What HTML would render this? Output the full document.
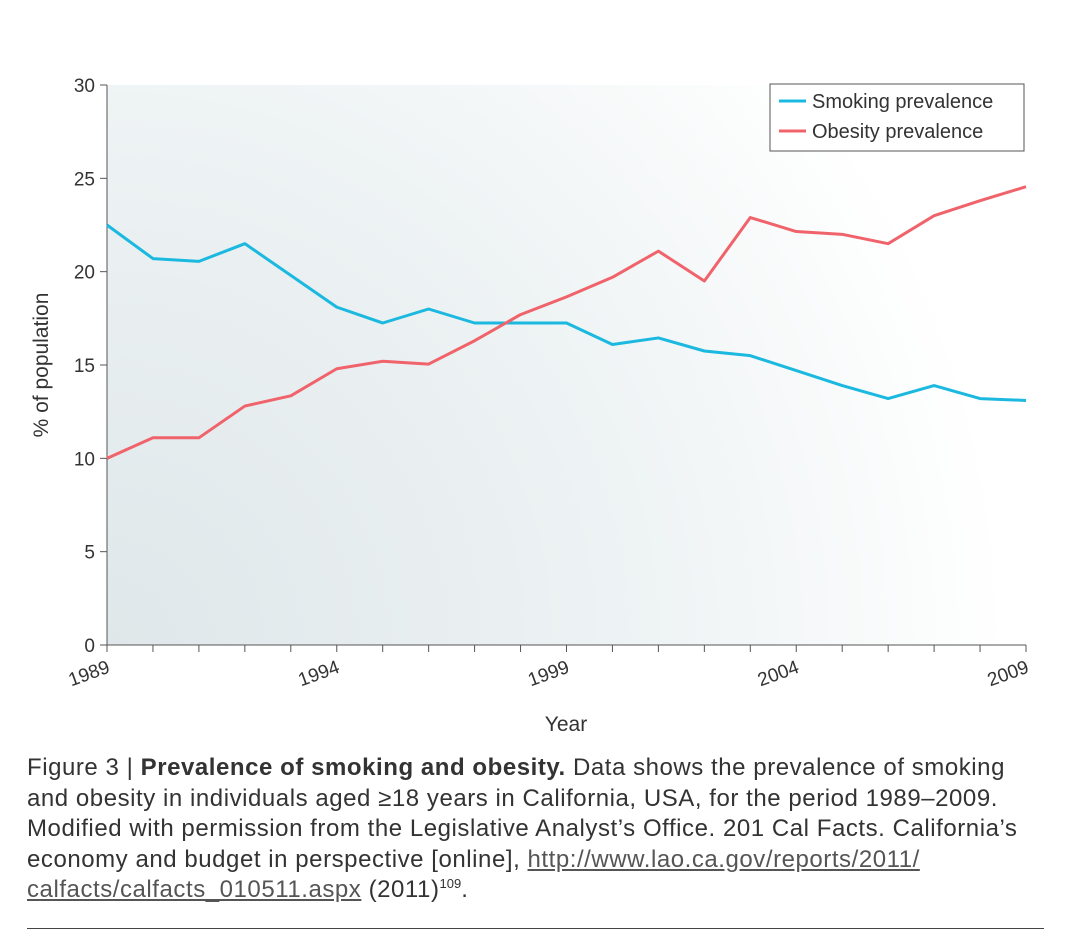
<!DOCTYPE html>
<html><head><meta charset="utf-8"><style>
body{margin:0;background:#fff;width:1080px;height:930px;overflow:hidden;font-family:"Liberation Sans",sans-serif;}
#cap{position:absolute;left:27px;top:753px;width:1040px;font-size:24px;letter-spacing:0.55px;line-height:30.5px;color:#333;white-space:nowrap;}
#cap a{color:#555;text-decoration:underline;}
#cap sup{font-size:13px;line-height:0;letter-spacing:0;}
#rule{position:absolute;left:27px;top:928px;width:1017px;height:1px;background:#444;}
</style></head><body>
<svg id="chart" width="1080" height="750" style="position:absolute;left:0;top:0">
<defs><radialGradient id="bg" cx="107" cy="645" r="900" gradientUnits="userSpaceOnUse">
<stop offset="0" stop-color="#dfe7ea"/><stop offset="0.6" stop-color="#eef3f4"/><stop offset="1" stop-color="#ffffff"/></radialGradient></defs>
<rect x="107" y="85" width="919" height="560" fill="url(#bg)"/>
<g id="axes"></g><g id="series"></g>
<text transform="translate(48,365) rotate(-90)" text-anchor="middle" font-size="21" fill="#333">% of population</text>
<text x="566" y="731" text-anchor="middle" font-size="21" fill="#333">Year</text>
<g>
<rect x="770" y="84" width="254" height="67" fill="#fff" stroke="#555" stroke-width="1"/>
<line x1="779" y1="101" x2="806" y2="101" stroke="#1bb8e0" stroke-width="3"/>
<text x="812" y="108" font-size="20" fill="#333">Smoking prevalence</text>
<line x1="779" y1="131" x2="806" y2="131" stroke="#f0636b" stroke-width="3"/>
<text x="812" y="138" font-size="20" fill="#333">Obesity prevalence</text>
</g>
</svg>
<div id="cap">Figure 3 | <b>Prevalence of smoking and obesity.</b> Data shows the prevalence of smoking<br>and obesity in individuals aged ≥18 years in California, USA, for the period 1989–2009.<br>Modified with permission from the Legislative Analyst’s Office. 201 Cal Facts. California’s<br>economy and budget in perspective [online], <a>http://www.lao.ca.gov/reports/2011/<br>calfacts/calfacts_010511.aspx</a> (2011)<sup>109</sup>.</div>
<div id="rule"></div>
<script>
const years=[1989,1990,1991,1992,1993,1994,1995,1996,1997,1998,1999,2000,2001,2002,2003,2004,2005,2006,2007,2008,2009];
const smoking=[22.5,20.7,20.55,21.5,19.8,18.1,17.25,18.0,17.25,17.25,17.25,16.1,16.45,15.75,15.5,14.7,13.9,13.2,13.9,13.2,13.1];
const obesity=[10.0,11.1,11.1,12.8,13.35,14.8,15.2,15.05,16.3,17.7,18.65,19.7,21.1,19.5,22.9,22.15,22.0,21.5,23.0,23.8,24.55];
const yTicks=[0,5,10,15,20,25,30];
const xLabels=[1989,1994,1999,2004,2009];
const NS="http://www.w3.org/2000/svg";
const X=v=>107+(v-1989)*(1026-107)/20, Y=v=>645-v*(560/30);
function mk(t,a,p){const e=document.createElementNS(NS,t);for(const k in a)e.setAttribute(k,a[k]);p.appendChild(e);return e;}
const ax=document.getElementById('axes');
let l=mk('line',{x1:107,y1:85,x2:107,y2:645,stroke:'#555','stroke-width':1},ax);


l=mk('line',{x1:107,y1:645,x2:1026,y2:645,stroke:'#555','stroke-width':1},ax);


yTicks.forEach(v=>{
 const t=mk('line',{x1:100,y1:Y(v),x2:107,y2:Y(v),stroke:'#555'},ax);
 
 
 const s=mk('text',{x:95,y:Y(v)+7,'text-anchor':'end','font-size':19,fill:'#333'},ax);s.textContent=v;
 
 
});
years.forEach(v=>{
 const t=mk('line',{x1:X(v),y1:645,x2:X(v),y2:652,stroke:'#555'},ax);
 
 
});
xLabels.forEach(v=>{
 const s=mk('text',{x:X(v)+4,y:672,'text-anchor':'end','font-size':19,fill:'#333',transform:`rotate(-20 ${X(v)+4} 672)`},ax);s.textContent=v;
 
 
});
const se=document.getElementById('series');
const pts=a=>a.map((v,i)=>X(years[i])+','+Y(v)).join(' ');
let p=mk('polyline',{points:pts(smoking),fill:'none',stroke:'#1bb8e0','stroke-width':3,'stroke-linejoin':'round'},se);


p=mk('polyline',{points:pts(obesity),fill:'none',stroke:'#f0636b','stroke-width':3,'stroke-linejoin':'round'},se);


</script>
</body></html>
